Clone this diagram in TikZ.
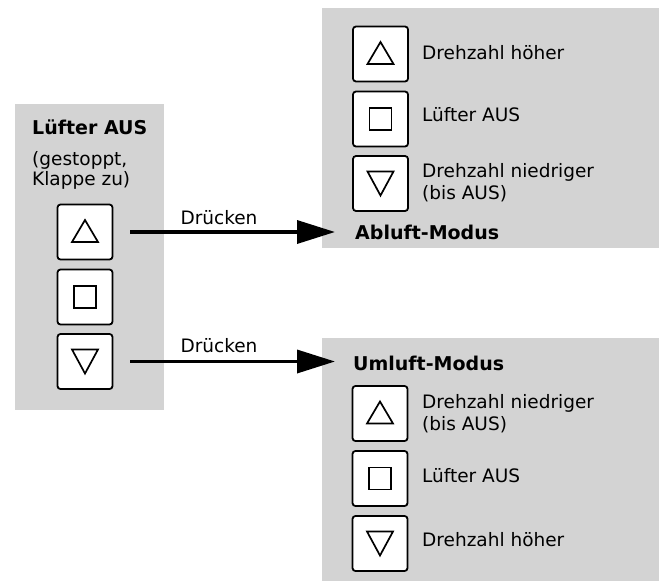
\documentclass[tikz,border=0pt]{standalone}
\usepackage{fontspec}
\setmainfont{DejaVu Sans}
\usetikzlibrary{arrows.meta}
\definecolor{panelgray}{RGB}{211,211,211}
\tikzset{
  btn/.style={draw, line width=1.8pt, fill=white, rounded corners=3pt,
    minimum width=55pt, minimum height=55pt, inner sep=0pt},
  sym/.style={line width=1.7pt, sharp corners, miter limit=10},
  upbtn/.style={btn, path picture={\draw[sym]
    ([shift={(-13,10)}]path picture bounding box.center) -- ++(26,0) -- ++(-13,-22) -- cycle;}},
  downbtn/.style={btn, path picture={\draw[sym]
    ([shift={(-13,-12)}]path picture bounding box.center) -- ++(26,0) -- ++(-13,24) -- cycle;}},
  stopbtn/.style={btn, path picture={\draw[sym]
    ([shift={(-11,-11)}]path picture bounding box.center) rectangle ++(22,22);}},
  txt/.style={anchor=base west, inner sep=0pt, font=\fontsize{18.5pt}{22pt}\selectfont},
  btxt/.style={anchor=base west, inner sep=0pt, font=\fontsize{19pt}{22pt}\selectfont\bfseries},
  lbl/.style={anchor=base, inner sep=0pt, font=\fontsize{18.5pt}{22pt}\selectfont},
  arr/.style={line width=3.5pt, -{Triangle[length=38pt, width=23pt]}}
}
\begin{document}
\begin{tikzpicture}[x=1pt, y=-1pt]
\useasboundingbox (0,0) rectangle (659,581);
% panels
\fill[panelgray] (15,104) rectangle (164,410);
\fill[panelgray] (322,8) rectangle (659,248);
\fill[panelgray] (322,338) rectangle (659,581);
% left panel
\node[btxt] (lhead) at (32,134) {Lüfter AUS};
\node[txt] (lsub1) at (32,165) {(gestoppt,};
\node[txt] (lsub2) at (32,185) {Klappe zu)};
\node[upbtn] (l1) at (85,232) {};
\node[stopbtn] (l2) at (85,297) {};
\node[downbtn] (l3) at (85,361.5) {};
% top right panel
\node[upbtn] (a1) at (380.5,54) {};
\node[stopbtn] (a2) at (380.5,119) {};
\node[downbtn] (a3) at (380.5,183.5) {};
\node[txt] (a1t) at (422,59) {Drehzahl höher};
\node[txt] (a2t) at (422,121) {Lüfter AUS};
\node[txt] (a3t) at (422,177.5) {Drehzahl niedriger};
\node[txt] (a3u) at (422,199.5) {(bis AUS)};
\node[btxt] (abl) at (355,239) {Abluft-Modus};
% bottom right panel
\node[btxt] (uml) at (353,370) {Umluft-Modus};
\node[upbtn] (u1) at (380,413.5) {};
\node[stopbtn] (u2) at (380,478.5) {};
\node[downbtn] (u3) at (380,543.5) {};
\node[txt] (u1t) at (422,408.5) {Drehzahl niedriger};
\node[txt] (u1u) at (422,430) {(bis AUS)};
\node[txt] (u2t) at (422,482.5) {Lüfter AUS};
\node[txt] (u3t) at (422,546) {Drehzahl höher};
% arrows
\node[lbl] (d1) at (219,224) {Drücken};
\node[lbl] (d2) at (219,352.5) {Drücken};
\draw[arr] ([xshift=17pt]l1.east) -- ([xshift=-20pt]abl.west |- l1.east);
\draw[arr] ([xshift=17pt]l3.east) -- ([xshift=-18pt]uml.west |- l3.east);
\end{tikzpicture}
\end{document}
